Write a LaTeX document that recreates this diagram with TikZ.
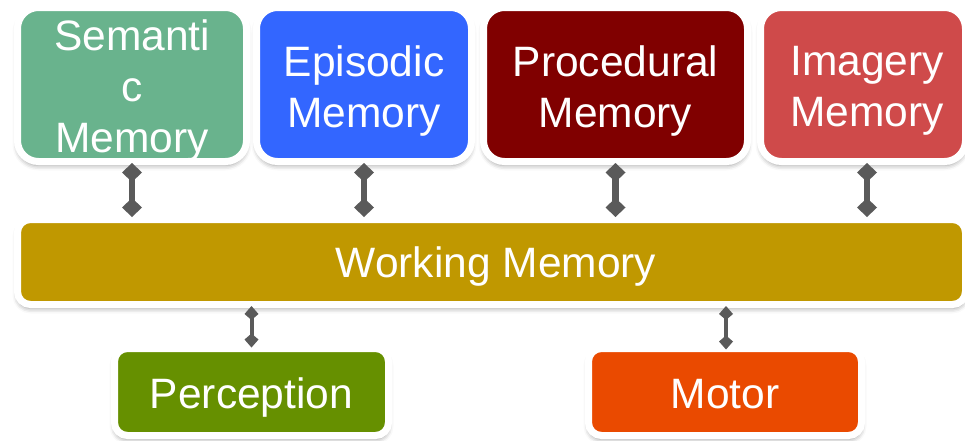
\documentclass[tikz,border=0pt]{standalone}
\usepackage{fontspec}
\setmainfont{Liberation Sans}
\usetikzlibrary{arrows.meta,shadows.blur,calc}

\definecolor{semgreen}{HTML}{69B38D}
\definecolor{epiblue}{HTML}{3366FF}
\definecolor{procred}{HTML}{800000}
\definecolor{imgred}{HTML}{CF4A4A}
\definecolor{wmgold}{HTML}{C09800}
\definecolor{percgreen}{HTML}{669000}
\definecolor{motororange}{HTML}{EA4A00}
\definecolor{linkgray}{HTML}{5A5A5A}

\begin{document}
\begin{tikzpicture}[x=1pt,y=-1pt,
  panel/.style={draw=white, line width=7pt, inner sep=0pt, outer sep=0pt,
    blur shadow={shadow xshift=0pt, shadow yshift=-4pt,
                 shadow blur radius=5pt, shadow opacity=40}},
  memorybox/.style={panel, minimum width=#1, minimum height=154pt,
                    rounded corners=21pt},
  barbox/.style={panel, minimum width=#1, minimum height=85pt,
                 rounded corners=13pt},
  label/.style={text=white, align=center, inner sep=0pt,
                font=\fontsize{42.5}{51}\selectfont},
  oneline/.style={label, text height=30pt, text depth=9pt},
  biglink/.style={draw=linkgray, line width=6.5pt,
                  {Kite[length=19pt,width=20pt,inset=9.5pt]}-{Kite[length=19pt,width=20pt,inset=9.5pt]}},
  smalllink/.style={draw=linkgray, line width=4pt,
                  {Kite[length=14pt,width=14pt,inset=6pt]}-{Kite[length=14pt,width=14pt,inset=6pt]}}
]
\useasboundingbox (0,0) rectangle (965,440);

% long-term memories
\node[memorybox=229pt, fill=semgreen]  (sem)  at (132,84.5)   {};
\node[memorybox=215pt, fill=epiblue]   (epi)  at (364,84.5)   {};
\node[memorybox=264pt, fill=procred]   (proc) at (615.5,84.5) {};
\node[memorybox=205pt, fill=imgred]    (img)  at (863,84.5)   {};

% working memory bar
\node[barbox=948pt, fill=wmgold] (wm) at (491.5,262) {};

% perception and motor
\node[barbox=274pt, minimum height=87pt, fill=percgreen]   (perc)  at (251.5,392) {};
\node[barbox=273pt, minimum height=87pt, fill=motororange] (motor) at (725,392)   {};

% texts
\node[label] (sem-t)  at (132,91)   {Semanti\\c\\Memory};
\node[label] (epi-t)  at (364,91)   {Episodic\\Memory};
\node[label] (proc-t) at (615.5,91) {Procedural\\Memory};
\node[label] (img-t)  at (867,91)   {Imagery\\Memory};
\node[oneline] (wm-t)    at (496,266.5)   {Working Memory};
\node[oneline] (perc-t)  at (251.5,398) {Perception};
\node[oneline] (motor-t) at (725,398) {Motor};

% links to working memory
\draw[biglink, shorten <=1.5pt, shorten >=2.5pt] (sem.south)  -- (sem.south |- wm.north);
\draw[biglink, shorten <=1.5pt, shorten >=2.5pt] (epi.south)  -- (epi.south |- wm.north);
\draw[biglink, shorten <=1.5pt, shorten >=2.5pt] (proc.south) -- (proc.south |- wm.north);
\draw[biglink, shorten <=1.5pt, shorten >=2.5pt] ([xshift=4pt]img.south) -- ([xshift=4pt]img.south |- wm.north);
\draw[smalllink, shorten <=1.5pt, shorten >=1pt] (perc.north |- wm.south) -- (perc.north);
\draw[smalllink, shorten <=1.5pt, shorten >=-1pt] ([xshift=1pt]motor.north |- wm.south) -- ([xshift=1pt]motor.north);
\end{tikzpicture}
\end{document}
